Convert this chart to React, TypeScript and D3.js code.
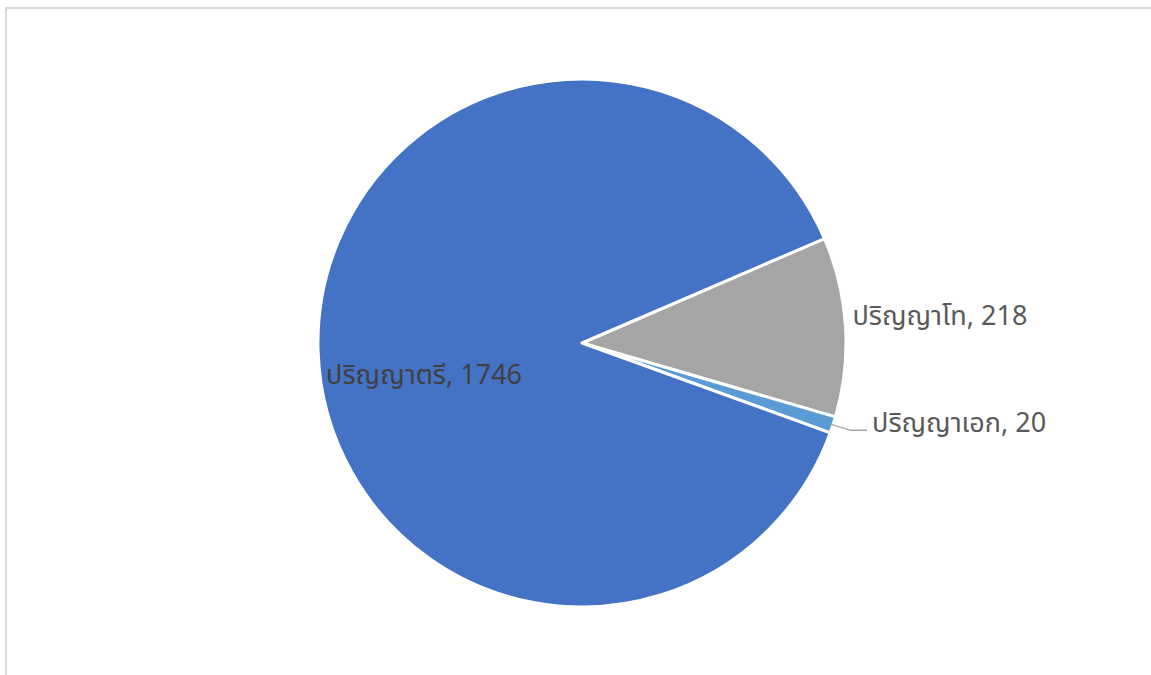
import React from "react";
import * as d3 from "d3";

const categories = ["ปริญญาโท", "ปริญญาเอก", "ปริญญาตรี"];
const values = [218, 20, 1746];
const colors = ["#A5A5A5", "#5B9BD5", "#4472C4"];

const W = 1151, H = 675;
const cx = 582, cy = 343, R = 264;

export default function App() {
  const data = categories.map((c, i) => ({ c, v: values[i], color: colors[i] }));
  const start = (66.7 * Math.PI) / 180;
  const pie = d3.pie<any>().value((d) => d.v).sort(null).startAngle(start).endAngle(start + 2 * Math.PI);
  const arcs = pie(data);
  const arc = d3.arc<any>().innerRadius(0).outerRadius(R);
  const pt = (a: number, r: number) => [cx + r * Math.sin(a), cy - r * Math.cos(a)];
  const font = "'Noto Sans Thai', 'Noto Sans', 'DejaVu Sans', sans-serif";
  const fs = 27;

  return (
    <svg width={W} height={H} style={{ position: "absolute", left: 0, top: 0 }}>
      <rect x={0} y={0} width={W} height={H} fill="#fff" />
      <rect x={6} y={8} width={W + 20} height={H + 20} fill="none" stroke="#d9d9d9" strokeWidth={2} />
      <g transform={`translate(${cx},${cy})`}>
        {arcs.map((a, i) => (
          <path key={i} d={arc(a) as string} fill={a.data.color} stroke="#fff" strokeWidth={3} strokeLinejoin="round" />
        ))}
      </g>
      {arcs.map((a, i) => {
        const mid = (a.startAngle + a.endAngle) / 2;
        const label = `${a.data.c}, ${a.data.v}`;
        if (a.data.c === "ปริญญาตรี") {
          const [x, y] = pt(mid - 0.18, R * 0.6);
          return (
            <text key={i} x={x - 3} y={y} fill="#404040" fontSize={fs} fontFamily={font} textAnchor="middle" dominantBaseline="central">
              {label}
            </text>
          );
        }
        if (a.data.c === "ปริญญาโท") {
          const [x, y] = pt(mid, R);
          return (
            <text key={i} x={x + 7} y={y - 10} fill="#595959" fontSize={fs} fontFamily={font} dominantBaseline="central">
              {label}
            </text>
          );
        }
        const [x0, y0] = pt(mid, R - 2);
        const [x1, y1] = [x0 + 20, y0 + 6];
        const [x2, y2] = [x1 + 16, y1];
        return (
          <g key={i}>
            <polyline points={`${x0},${y0} ${x1},${y1} ${x2},${y2}`} fill="none" stroke="#a6a6a6" strokeWidth={1.3} />
            <text x={x2 + 5} y={y2 - 7} fill="#595959" fontSize={fs} fontFamily={font} dominantBaseline="central">
              {label}
            </text>
          </g>
        );
      })}
    </svg>
  );
}
